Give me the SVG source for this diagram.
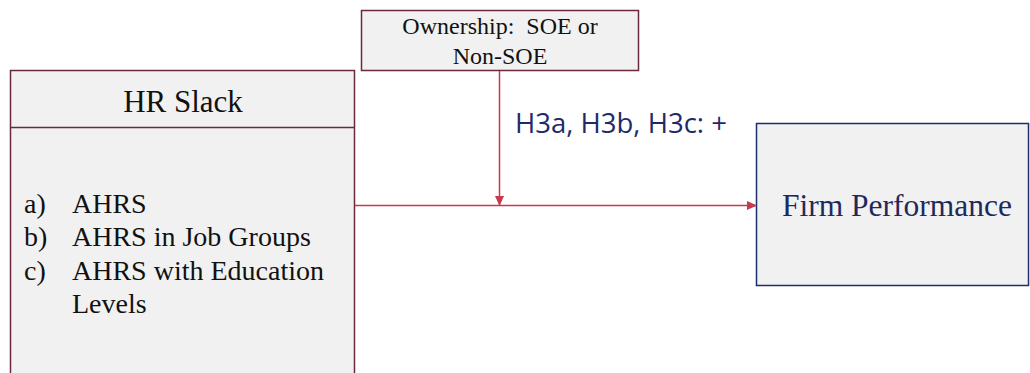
<svg xmlns="http://www.w3.org/2000/svg" width="1030" height="373" viewBox="0 0 1030 373">
  <style>
    .box { fill: #f1f1f1; stroke: #6b2a3a; stroke-width: 1.5; }
    .out { fill: #f1f1f1; stroke: #1f2d6b; stroke-width: 1.5; }
    .serif { font-family: "Liberation Serif", "Times New Roman", serif; fill: #111; }
    .link { stroke: #c8384f; stroke-width: 1.5; fill: none; }
  </style>
  <defs>
    <marker id="head" markerWidth="10" markerHeight="10" refX="9" refY="5" orient="auto" markerUnits="userSpaceOnUse">
      <path d="M0,0.5 L10,5 L0,9.5 z" fill="#c8384f"/>
    </marker>
  </defs>

  <!-- moderator -->
  <g id="ownership">
    <rect class="box" x="361.5" y="10.5" width="277" height="60"/>
    <text class="serif" x="500" y="34" font-size="24" text-anchor="middle">Ownership:&#160; SOE or</text>
    <text class="serif" x="500" y="64" font-size="24" text-anchor="middle">Non-SOE</text>
  </g>

  <!-- independent variable -->
  <g id="hr-slack">
    <rect class="box" x="10.5" y="70.5" width="344" height="320"/>
    <line x1="10.5" y1="127.5" x2="354.5" y2="127.5" stroke="#6b2a3a" stroke-width="1.5"/>
    <text class="serif" x="183" y="112" font-size="31" text-anchor="middle">HR Slack</text>
    <g class="serif" font-size="28">
      <text x="24" y="213">a)</text>
      <text x="72" y="213">AHRS</text>
      <text x="24" y="246">b)</text>
      <text x="72" y="246">AHRS in Job Groups</text>
      <text x="24" y="280">c)</text>
      <text x="72" y="280">AHRS with Education</text>
      <text x="72" y="313">Levels</text>
    </g>
  </g>

  <!-- dependent variable -->
  <g id="firm-performance">
    <rect class="out" x="756.5" y="123.5" width="272" height="162"/>
    <text x="897" y="216" font-size="31.5" text-anchor="middle" font-family="Liberation Serif, Times New Roman, serif" fill="#1f2a5c">Firm Performance</text>
  </g>

  <!-- connectors -->
  <g id="connectors">
    <line class="link" x1="355" y1="205.5" x2="756" y2="205.5" marker-end="url(#head)"/>
    <line class="link" x1="499.5" y1="71" x2="499.5" y2="205" marker-end="url(#head)"/>
    <text x="515" y="133" font-size="27.5" font-family="Open Sans, Noto Sans, sans-serif" fill="#1f2a6b">H3a, H3b, H3c: +</text>
  </g>
</svg>
